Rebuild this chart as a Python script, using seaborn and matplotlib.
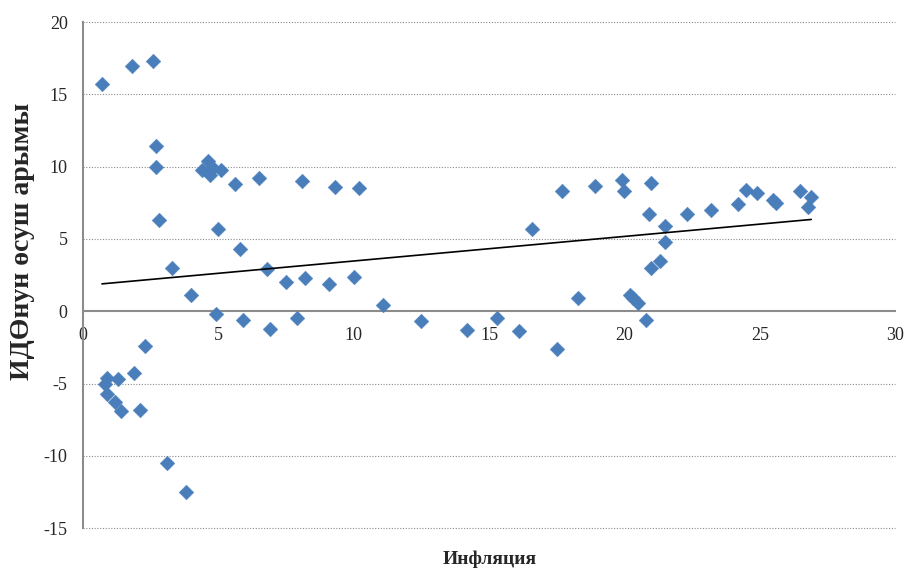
import numpy as np
import matplotlib
matplotlib.use("Agg")
import matplotlib.pyplot as plt
import seaborn as sns
import pandas as pd

# inflation (x) vs GDP growth rate (y)
inflation = [0.7, 1.8, 2.6, 2.7, 2.7, 2.8, 3.3, 4.0, 4.9,
             4.4, 4.6, 4.7, 4.8, 5.1, 5.6, 6.5, 8.1, 9.3, 10.2,
             5.0, 5.8, 6.8, 7.5, 8.2, 9.1, 10.0,
             5.9, 6.9, 7.9, 11.1, 12.5, 14.2, 15.3, 16.1, 17.5,
             16.6, 17.7, 18.9, 18.3,
             19.9, 20.0, 21.0, 20.9, 21.5, 21.5, 21.0, 21.3,
             20.2, 20.3, 20.5, 20.8, 22.3, 23.2, 24.2, 24.5, 24.9,
             25.5, 25.6, 26.5, 26.9, 26.8,
             2.3, 1.9, 1.3, 0.9, 0.8, 0.9, 1.2, 1.4, 2.1, 3.1, 3.8]
gdp_growth = [15.7, 17.0, 17.3, 11.4, 10.0, 6.3, 3.0, 1.1, -0.2,
              9.8, 10.4, 9.4, 9.9, 9.8, 8.8, 9.2, 9.0, 8.6, 8.5,
              5.7, 4.3, 2.9, 2.0, 2.3, 1.9, 2.4,
              -0.6, -1.2, -0.5, 0.4, -0.7, -1.3, -0.5, -1.4, -2.6,
              5.7, 8.3, 8.7, 0.9,
              9.1, 8.3, 8.9, 6.7, 5.9, 4.8, 3.0, 3.5,
              1.1, 0.9, 0.6, -0.6, 6.7, 7.0, 7.4, 8.4, 8.2,
              7.7, 7.5, 8.3, 7.9, 7.2,
              -2.4, -4.3, -4.7, -4.6, -5.0, -5.7, -6.3, -6.9, -6.8, -10.5, -12.5]

x_ticks = [0, 5, 10, 15, 20, 25, 30]
y_ticks = [-15, -10, -5, 0, 5, 10, 15, 20]

df = pd.DataFrame({"inf": inflation, "gdp": gdp_growth})

sns.set_style("white")
plt.rcParams['font.family'] = ['Liberation Serif', 'DejaVu Serif']
plt.rcParams['axes.unicode_minus'] = False

fig, ax = plt.subplots(figsize=(9.06, 5.69), dpi=100)
fig.subplots_adjust(left=0.0916, right=0.988, top=0.961, bottom=0.072)

for yv in y_ticks:
    if yv != 0:
        ax.axhline(yv, color='#8c8c8c', lw=0.8, ls=(0, (1, 1.5)), zorder=0, clip_on=False)

sns.scatterplot(data=df, x="inf", y="gdp", marker="D", s=56, color="#4a7ebb",
                edgecolor="#4a7ebb", linewidth=0.3, ax=ax, zorder=3)

# linear trend line over the data range
k, b = np.polyfit(df["inf"], df["gdp"], 1)
xs = np.array([df["inf"].min(), df["inf"].max()])
ax.plot(xs, k * xs + b, color="black", lw=1.2, zorder=4)

ax.set_xlim(0, 30)
ax.set_ylim(-15, 20)
ax.set_xticks(x_ticks)
ax.set_yticks(y_ticks)
ax.tick_params(length=0, labelsize=13)
ax.tick_params(axis='y', pad=11)
ax.tick_params(axis='x', pad=11)

for s in ['top', 'right']:
    ax.spines[s].set_visible(False)
ax.spines['left'].set_color('#8c8c8c')
ax.spines['left'].set_linewidth(1.5)
ax.spines['bottom'].set_position(('data', 0))
ax.spines['bottom'].set_color('#8c8c8c')
ax.spines['bottom'].set_linewidth(1.5)

ax.set_xlabel("")
ax.set_ylabel("")
fig.text(0.0243, 0.575, "ИДӨнун өсуш арымы", fontsize=20, fontweight='bold',
         rotation=90, ha='center', va='center')
fig.text(0.541, 0.017, "Инфляция", fontsize=14, fontweight='bold',
         ha='center', va='center')

fig.savefig("out.png", dpi=100)
